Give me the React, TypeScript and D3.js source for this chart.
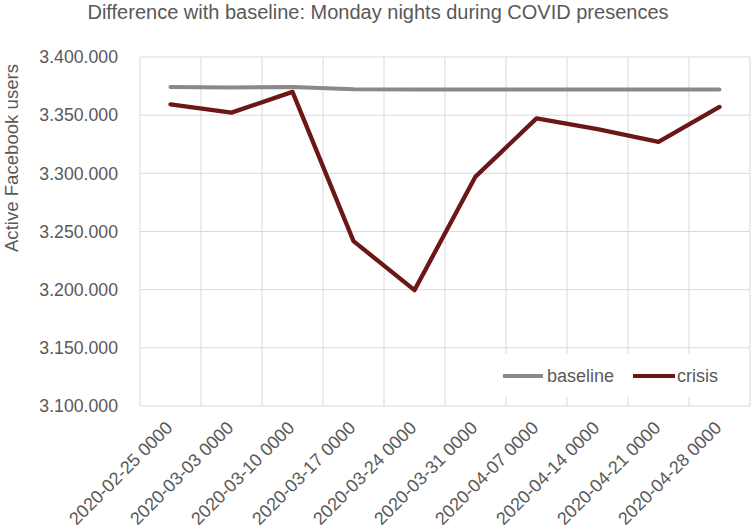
import React from "react";
import * as d3 from "d3";

const categories = [
  "2020-02-25 0000",
  "2020-03-03 0000",
  "2020-03-10 0000",
  "2020-03-17 0000",
  "2020-03-24 0000",
  "2020-03-31 0000",
  "2020-04-07 0000",
  "2020-04-14 0000",
  "2020-04-21 0000",
  "2020-04-28 0000",
];
const baseline = [3374300, 3373800, 3374300, 3372200, 3372000, 3372000, 3372000, 3372000, 3372000, 3372000];
const crisis = [3359300, 3352200, 3370000, 3241700, 3199600, 3297200, 3347200, 3338000, 3327000, 3357100];
const yTicks = [3100000, 3150000, 3200000, 3250000, 3300000, 3350000, 3400000];

const W = 754;
const H = 530;
const left = 140;
const right = 750;
const top = 57;
const bottom = 406;
const TEXT = "#595959";
const GRID = "#d9d9d9";
const FONT = "'Liberation Sans', Arial, sans-serif";

const fmt = (v: number) => d3.format(",")(v).replace(/,/g, ".");

export default function App() {
  const x = d3.scaleBand<string>().domain(categories).range([left, right]);
  const y = d3.scaleLinear().domain([3100000, 3400000]).range([bottom, top]);
  const cx = (c: string) => (x(c) as number) + x.bandwidth() / 2;
  const line = d3
    .line<number>()
    .x((_, i) => cx(categories[i]))
    .y((d) => y(d));

  return (
    <svg
      width={W}
      height={H}
      style={{ position: "absolute", left: 0, top: 0, background: "#fff" }}
      fontFamily={FONT}
    >
      <text x={378} y={19} textAnchor="middle" fontSize={20} fill={TEXT}>
        Difference with baseline: Monday nights during COVID presences
      </text>
      {yTicks.map((t) => (
        <line key={"h" + t} x1={left} x2={right} y1={y(t)} y2={y(t)} stroke={GRID} strokeWidth={1} />
      ))}
      {categories.map((c) => (
        <line
          key={"v" + c}
          x1={x(c) as number}
          x2={x(c) as number}
          y1={top}
          y2={bottom}
          stroke={GRID}
          strokeWidth={1}
        />
      ))}
      <line x1={right} x2={right} y1={top} y2={bottom} stroke={GRID} strokeWidth={1} />
      {yTicks.map((t) => (
        <text key={"yt" + t} x={118} y={y(t)} dy="0.35em" textAnchor="end" fontSize={17.7} fill={TEXT}>
          {fmt(t)}
        </text>
      ))}
      <text
        transform="translate(18,158) rotate(-90)"
        textAnchor="middle"
        fontSize={18.6}
        fill={TEXT}
      >
        Active Facebook users
      </text>
      {categories.map((c) => (
        <text
          key={"xt" + c}
          transform={`translate(${cx(c) + 3},${429}) rotate(-45)`}
          textAnchor="end"
          fontSize={18}
          fill={TEXT}
        >
          {c}
        </text>
      ))}
      <path d={line(baseline) || ""} fill="none" stroke="#898989" strokeWidth={4} strokeLinejoin="round" strokeLinecap="round" />
      <path d={line(crisis) || ""} fill="none" stroke="#6b1718" strokeWidth={4.3} strokeLinejoin="round" strokeLinecap="round" />
      <rect x={498} y={354} width={247} height={43} fill="#fff" />
      <line x1={503} x2={543} y1={376} y2={376} stroke="#898989" strokeWidth={4} />
      <text x={547} y={376} dy="0.35em" fontSize={18} fill={TEXT}>baseline</text>
      <line x1={633} x2={675} y1={376} y2={376} stroke="#6b1718" strokeWidth={4} />
      <text x={677} y={376} dy="0.35em" fontSize={18} fill={TEXT}>crisis</text>
    </svg>
  );
}
